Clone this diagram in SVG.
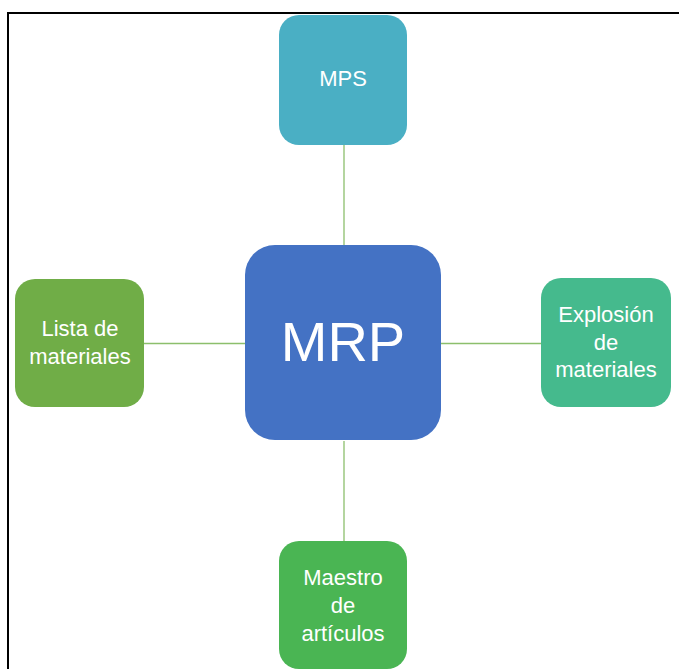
<svg xmlns="http://www.w3.org/2000/svg" width="679" height="669" viewBox="0 0 679 669">
<style>
.t{font-family:"Liberation Sans",Arial,sans-serif;fill:#ffffff;text-anchor:middle;font-size:22px}
.c{stroke:#8cbf6c;stroke-width:1.3;fill:none}
</style>
<rect x="0" y="0" width="679" height="669" fill="#ffffff"/>
<rect x="8" y="13" width="680" height="670" fill="none" stroke="#000000" stroke-width="2"/>
<g id="connectors">
<line class="c" x1="344" y1="145" x2="344" y2="245"/>
<line class="c" x1="344" y1="441" x2="344" y2="541"/>
<line class="c" x1="144" y1="343.5" x2="245" y2="343.5"/>
<line class="c" x1="441" y1="343.5" x2="541" y2="343.5"/>
</g>
<g id="mrp">
<rect x="245" y="245" width="196" height="195" rx="30" fill="#4472c4"/>
<text class="t" x="343" y="361" style="font-size:56px">MRP</text>
</g>
<g id="mps">
<rect x="279" y="15" width="128" height="130" rx="20" fill="#4aafc4"/>
<text class="t" x="343" y="86">MPS</text>
</g>
<g id="lista">
<rect x="15" y="279" width="129" height="128" rx="20" fill="#70ad47"/>
<text class="t" x="80" y="336">Lista de</text>
<text class="t" x="80" y="364">materiales</text>
</g>
<g id="explosion">
<rect x="541" y="278" width="130" height="129" rx="20" fill="#45ba8d"/>
<text class="t" x="606" y="322">Explosión</text>
<text class="t" x="606" y="350">de</text>
<text class="t" x="606" y="377">materiales</text>
</g>
<g id="maestro">
<rect x="279" y="541" width="128" height="128" rx="20" fill="#4ab553"/>
<text class="t" x="343" y="585">Maestro</text>
<text class="t" x="343" y="613">de</text>
<text class="t" x="343" y="641">artículos</text>
</g>
</svg>
